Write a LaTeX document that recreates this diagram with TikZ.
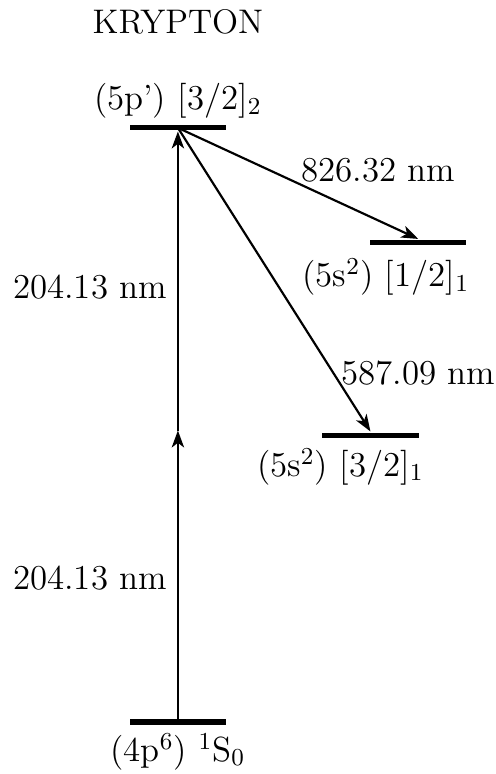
\documentclass[tikz,border=0pt]{standalone}
\usepackage{tikz}
\usetikzlibrary{arrows.meta}
\tikzset{
  >={Stealth[length=2.2mm,width=1.6mm,inset=0.6mm]},
  lvl/.style={rectangle,fill,minimum width=1.25cm,minimum height=1.9pt,inner sep=0pt},
  lb/.style={inner sep=1pt,font=\fontsize{12.9}{15}\selectfont},
  wl/.style={inner sep=1pt,font=\fontsize{12.9}{15}\selectfont},
  every picture/.style={line width=0.8pt},
}
\begin{document}
\begin{tikzpicture}
\useasboundingbox (0,0) rectangle (6.44,10.05);
\node[font=\fontsize{12.6}{15}\selectfont] (title) at (2.31,9.77){KRYPTON};
\node[lvl] (P) at (2.31,8.39){}; \node[lvl] (G) at (2.31,0.675){};
\node[lvl] (S1) at (5.43,6.90){}; \node[lvl] (S3) at (4.81,4.40){};
\node[lb] (lP) at (2.31,8.74){(5p') [3/2]$_2$}; \node[lb] (lG) at (2.31,0.29){(4p$^6$) $^1$S$_0$};
\node[lb] (lS1) at (5.01,6.45){(5s$^2$) [1/2]$_1$}; \node[lb] (lS3) at (4.42,3.99){(5s$^2$) [3/2]$_1$};
\coordinate (V) at (2.31,4.46);
\draw[->] (G.center)--(V); \draw[->] (V)--(P.south);
\draw[->] (P.center)--(S1.north); \draw[->] (P.center)--(S3.north);
\node[wl] (w1) at (1.17,6.32){204.13 nm}; \node[wl] (w2) at (1.17,2.55){204.13 nm};
\node[wl] (w3) at (4.91,7.84){826.32 nm}; \node[wl] (w4) at (5.43,5.21){587.09 nm};
\end{tikzpicture}
\end{document}
